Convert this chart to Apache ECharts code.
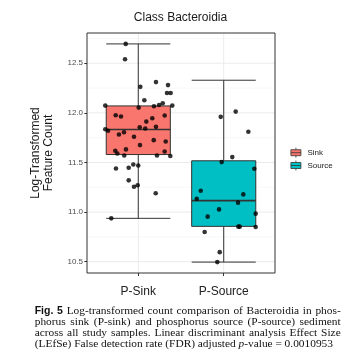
<!DOCTYPE html>
<html><head><meta charset="utf-8">
<script src="https://cdn.jsdelivr.net/npm/echarts@6/dist/echarts.min.js"></script>
<style>html,body{margin:0;padding:0;background:#fff}#c{width:356px;height:364px}</style>
</head><body><div id="c"></div>
<script>
// ---------- data ----------
const title = 'Class Bacteroidia';
const categories = ['P-Sink', 'P-Source'];
const groupNames = ['Sink', 'Source'];
const colors = ['#F8766D', '#00BFC4'];
const yTicks = [10.5, 11.0, 11.5, 12.0, 12.5];
const yMinorTicks = [10.75, 11.25, 11.75, 12.25, 12.75];
// box stats: [min, Q1, median, Q3, max]
const sinkBox = [10.937, 11.58, 11.832, 12.07, 12.695];
const sourceBox = [10.496, 10.856, 11.115, 11.517, 12.329];
// jittered points: value and horizontal jitter position (category units)
const sinkValues = [12.695, 12.54, 12.262, 12.31, 12.28, 12.20, 12.20, 12.127, 12.073, 12.053, 12.066, 12.08, 12.097, 12.073,
  11.976, 11.963, 11.946, 11.973, 11.912, 11.835, 11.82, 11.855, 11.842, 11.859, 11.805, 11.782, 11.759, 11.725, 11.712,
  11.675, 11.632, 11.618, 11.59, 11.57, 11.57, 11.61, 11.566, 11.44, 11.447, 11.48, 11.47, 11.32, 11.256, 11.27, 11.19, 10.937];
const sinkJitter = [0.853, 0.845, 1.024, 1.207, 1.348, 1.336, 1.379, 1.071, 0.614, 1.005, 1.184, 1.243, 1.286, 1.398,
  0.736, 0.798, 1.164, 1.309, 1.094, 0.614, 0.646, 1.017, 1.082, 1.207, 0.833, 0.774, 0.950, 1.181, 1.321,
  1.020, 0.856, 0.731, 0.755, 0.836, 1.219, 1.309, 1.375, 0.739, 0.888, 0.942, 1.000, 0.888, 0.950, 0.993, 1.204, 0.684];
const sourceValues = [12.013, 11.96, 11.81, 11.554, 11.504, 11.437, 11.215, 11.135, 11.178, 11.095, 11.027, 10.954, 10.984,
  10.853, 10.853, 10.85, 10.80, 10.596, 10.496];
const sourceJitter = [2.140, 1.965, 2.288, 2.100, 1.976, 2.358, 1.731, 1.684, 2.229, 2.167, 1.945, 1.812, 2.374,
  2.171, 2.187, 2.374, 1.777, 1.953, 1.925];
const yAxisName = 'Log-Transformed\nFeature Count';
const captionLines = [
  '**Fig.** **5** Log-transformed count comparison of Bacteroidia in phos-',
  'phorus sink (P-sink) and phosphorus source (P-source) sediment',
  'across all study samples. Linear discriminant analysis Effect Size',
  '(LEfSe) False detection rate (FDR) adjusted *p*-value = 0.0010953'
];

// ---------- chart ----------
const SANS = "'Liberation Sans', Arial, Helvetica, sans-serif";
const SERIF = "'Liberation Serif', 'Times New Roman', serif";
const allVals = sinkValues.concat(sourceValues, sinkBox, sourceBox);
const dMin = Math.min.apply(null, allVals), dMax = Math.max.apply(null, allVals);
const pad = (dMax - dMin) * 0.05;
const chart = echarts.init(document.getElementById('c'), null, {renderer: 'canvas'});

function boxRender(params, api) {
  const x = api.value(0), hw = 0.375;
  const lo = api.value(1), q1 = api.value(2), med = api.value(3), q3 = api.value(4), hi = api.value(5);
  const L = api.coord([x - hw, q3]), R = api.coord([x + hw, q1]);
  const c = api.coord([x, med]);
  const pLo = api.coord([x, lo]), pHi = api.coord([x, hi]);
  const ls = {stroke: '#333', lineWidth: 1};
  return {type: 'group', children: [
    {type: 'line', shape: {x1: c[0], y1: L[1], x2: c[0], y2: pHi[1]}, style: ls},
    {type: 'line', shape: {x1: c[0], y1: R[1], x2: c[0], y2: pLo[1]}, style: ls},
    {type: 'line', shape: {x1: L[0], y1: pHi[1], x2: R[0], y2: pHi[1]}, style: ls},
    {type: 'line', shape: {x1: L[0], y1: pLo[1], x2: R[0], y2: pLo[1]}, style: ls},
    {type: 'rect', shape: {x: L[0], y: L[1], width: R[0] - L[0], height: R[1] - L[1]},
      style: {fill: api.visual('color'), stroke: '#333', lineWidth: 1}},
    {type: 'line', shape: {x1: L[0], y1: c[1], x2: R[0], y2: c[1]}, style: {stroke: '#333', lineWidth: 1.6}}
  ]};
}
function gridRender(params, api) {
  const cs = params.coordSys;
  const orient = api.value(0), v = api.value(1), minor = api.value(2);
  const style = {stroke: minor ? '#f3f3f3' : '#ebebeb', lineWidth: minor ? 0.6 : 1};
  if (orient === 0) {
    const p = api.coord([0.4, v]);
    return {type: 'line', shape: {x1: cs.x, y1: p[1], x2: cs.x + cs.width, y2: p[1]}, style};
  }
  const p = api.coord([v, dMin]);
  return {type: 'line', shape: {x1: p[0], y1: cs.y, x2: p[0], y2: cs.y + cs.height}, style};
}
const gridData = [].concat(
  yMinorTicks.map(v => [0, v, 1]),
  yTicks.map(v => [0, v, 0]),
  categories.map((c, i) => [1, i + 1, 0])
);

// caption layout (justified)
const ctx = document.createElement('canvas').getContext('2d');
const fonts = {
  n: {fontFamily: SERIF, fontSize: 11.4, fontWeight: 'normal', fontStyle: 'normal'},
  i: {fontFamily: SERIF, fontSize: 11.4, fontWeight: 'normal', fontStyle: 'italic'},
  b: {fontFamily: SANS, fontSize: 10.5, fontWeight: 'bold', fontStyle: 'normal'}
};
function cssFont(f) { return f.fontStyle + ' ' + f.fontWeight + ' ' + f.fontSize + 'px ' + f.fontFamily; }
function segs(word) {
  const out = []; const re = /\*\*([^*]+)\*\*|\*([^*]+)\*|([^*]+)/g; let m;
  while ((m = re.exec(word))) {
    if (m[1]) out.push({t: m[1], k: 'b'}); else if (m[2]) out.push({t: m[2], k: 'i'}); else out.push({t: m[3], k: 'n'});
  }
  return out;
}
const capLeft = 34.7, capRights = [340.7, 340.7, 340.7, 333], capTop = 311.3, capStep = 10.9;
const graphics = [];
captionLines.forEach((line, li) => {
  const words = line.split(' ').map(w => {
    const s = segs(w);
    let wd = 0; s.forEach(p => { ctx.font = cssFont(fonts[p.k]); wd += ctx.measureText(p.t).width; });
    return {s, wd};
  });
  const tot = words.reduce((a, w) => a + w.wd, 0);
  const gap = (capRights[li] - capLeft - tot) / (words.length - 1);
  let x = capLeft;
  words.forEach(w => {
    graphics.push({type: 'text', x: x, y: capTop + li * capStep, silent: true,
      style: {text: w.s.map(p => '{' + p.k + '|' + p.t + '}').join(''), rich: fonts,
        fill: '#111', verticalAlign: 'middle', align: 'left', fontFamily: SERIF, fontSize: 11.4}});
    x += w.wd + gap;
  });
});
graphics.push({type: 'text', x: 180.5, y: 17.7, silent: true,
  style: {text: title, fontFamily: SANS, fontSize: 12, fill: '#1a1a1a', align: 'center', verticalAlign: 'middle'}});

chart.setOption({
  animation: false,
  grid: {left: 87, right: 81, top: 33, bottom: 91, show: true, borderColor: '#333', borderWidth: 1, backgroundColor: 'transparent', z: 10},
  xAxis: {type: 'value', min: 0.4, max: 2.6,
    axisLine: {show: false}, splitLine: {show: false},
    axisTick: {show: true, length: 3, lineStyle: {color: '#333'}, customValues: [1, 2]},
    axisLabel: {customValues: [1, 2], margin: 13, fontSize: 12, fontFamily: SANS, color: '#222',
      formatter: v => categories[Math.round(v) - 1]}},
  yAxis: {type: 'value', min: dMin - pad, max: dMax + pad,
    name: yAxisName, nameLocation: 'middle', nameRotate: 90, nameGap: 32,
    nameTextStyle: {fontSize: 12, fontFamily: SANS, color: '#1a1a1a', lineHeight: 13},
    axisLine: {show: false}, splitLine: {show: false},
    axisTick: {show: true, length: 2.7, lineStyle: {color: '#333'}, customValues: yTicks},
    axisLabel: {customValues: yTicks, margin: 4, fontSize: 8, fontFamily: SANS, color: '#4d4d4d',
      formatter: v => v.toFixed(1)}},
  legend: {orient: 'vertical', left: 290.5, top: 147.3, padding: 0, itemWidth: 10, itemHeight: 10, itemGap: 2,
    selectedMode: false, data: groupNames,
    icon: 'path://M5,0L5,2M0,2L10,2L10,8L0,8ZM0,5L10,5M5,8L5,10',
    itemStyle: {borderColor: '#333', borderWidth: 0.8},
    textStyle: {fontSize: 8, fontFamily: SANS, color: '#1a1a1a', padding: [0, 0, 0, 1.5]}},
  graphic: graphics,
  series: [
    {type: 'custom', name: '_grid', renderItem: gridRender, data: gridData, silent: true, z: 1,
      encode: {x: 1, y: 1}, clip: true},
    {type: 'custom', name: groupNames[0], renderItem: boxRender, data: [[1].concat(sinkBox)], z: 2,
      itemStyle: {color: colors[0], borderColor: '#333'}, encode: {x: 0, y: [1, 2, 3, 4, 5]}},
    {type: 'custom', name: groupNames[1], renderItem: boxRender, data: [[2].concat(sourceBox)], z: 2,
      itemStyle: {color: colors[1], borderColor: '#333'}, encode: {x: 0, y: [1, 2, 3, 4, 5]}},
    {type: 'scatter', name: '_pts1', data: sinkValues.map((v, i) => [sinkJitter[i], v]), symbolSize: 4.6,
      itemStyle: {color: '#000'}, z: 5, silent: true},
    {type: 'scatter', name: '_pts2', data: sourceValues.map((v, i) => [sourceJitter[i], v]), symbolSize: 4.6,
      itemStyle: {color: '#000'}, z: 5, silent: true}
  ]
});
</script></body></html>
